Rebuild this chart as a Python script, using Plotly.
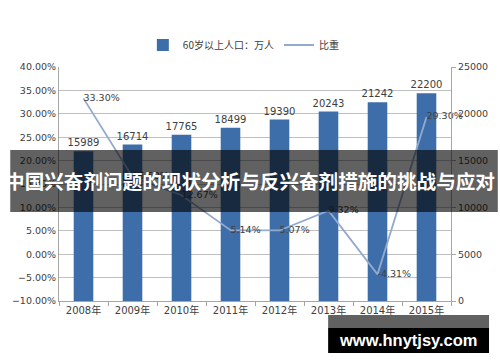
import plotly.graph_objects as go

years = ["2008年", "2009年", "2010年", "2011年", "2012年", "2013年", "2014年", "2015年"]
population = [15989, 16714, 17765, 18499, 19390, 20243, 21242, 22200]
ratio = [33.30, 16.5, 12.6, 5.14, 5.07, 9.32, -4.31, 29.30]
ratio_labels = ["33.30%", "16.50%", "12.67%", "5.14%", "5.07%", "9.32%", "-4.31%", "29.30%"]
bar_name = "60岁以上人口：万人"
line_name = "比重"
banner_text = "中国兴奋剂问题的现状分析与反兴奋剂措施的挑战与应对"
watermark = "www.hnytjsy.com"

W, H = 500, 362
L, R, T, B = 50, 48, 67, 61
PW, PH = W - L - R, H - T - B

def px(x):
    return (x - L) / PW

def py(y):
    return 1 - (y - T) / PH

txt = "#404040"
num_font = dict(family="DejaVu Sans, Noto Sans CJK SC", size=9.5, color=txt)

fig = go.Figure()
fig.add_trace(go.Bar(
    x=years, y=population, name=bar_name, yaxis="y",
    marker=dict(color="#3E6EA9", line=dict(width=0)),
    text=[str(v) for v in population], textposition="outside",
    constraintext="none",
    textfont=dict(family="DejaVu Sans", size=10, color=txt), cliponaxis=False,
))
fig.add_trace(go.Scatter(
    x=years, y=ratio, name=line_name, yaxis="y2", mode="lines+text",
    line=dict(color="#93AACF", width=1.8),
    text=ratio_labels, textposition="middle right", textfont=num_font,
    cliponaxis=False,
))

fig.update_layout(
    width=W, height=H,
    margin=dict(l=L, r=R, t=T, b=B),
    paper_bgcolor="white", plot_bgcolor="white",
    bargap=0.6,
    showlegend=True,
    title=dict(text=banner_text, xref="container", yref="container",
               x=0.5, y=1 - 182 / H, xanchor="center", yanchor="middle",
               pad=dict(t=0, b=0, l=0, r=0),
               font=dict(family="Noto Sans CJK SC", size=19.6, color="white", weight="bold")),
    legend=dict(orientation="h", x=px(136), xanchor="left", y=py(45), yanchor="middle",
                font=dict(family="Noto Sans CJK SC", size=10, color=txt),
                itemwidth=30, tracegroupgap=0),
    xaxis=dict(type="category", showline=True, linecolor="#A6A6A6", linewidth=1,
               ticks="outside", tickson="boundaries", ticklen=4, tickcolor="#A6A6A6",
               tickfont=dict(family="DejaVu Sans, Noto Sans CJK SC", size=10, color=txt),
               showgrid=False),
    yaxis=dict(side="right", range=[0, 25000], dtick=5000, tickformat="d", showgrid=False,
               showline=True, linecolor="#A6A6A6", ticks="outside", ticklen=4,
               tickcolor="#A6A6A6", tickfont=num_font, zeroline=False),
    yaxis2=dict(side="left", overlaying="y", range=[-10, 40], dtick=5,
                tickformat=".2f", ticksuffix="%", showgrid=True, gridcolor="#BFBFBF",
                gridwidth=1, showline=True, linecolor="#A6A6A6", ticks="",
                tickfont=num_font, zeroline=False),
    shapes=[
        dict(type="rect", xref="paper", yref="paper", x0=px(0), x1=px(500),
             y0=py(150), y1=py(212), fillcolor="rgba(0,0,0,0.62)", line=dict(width=0),
             layer="above"),
        dict(type="rect", xref="paper", yref="paper", x0=px(326), x1=px(491),
             y0=py(315), y1=py(328), fillcolor="rgba(80,80,80,0.9)", line=dict(width=0),
             layer="above"),
        dict(type="rect", xref="paper", yref="paper", x0=px(326), x1=px(491),
             y0=py(328), y1=py(353), fillcolor="#000000", line=dict(width=0),
             layer="above"),
    ],
    annotations=[
        dict(text=watermark, xref="paper", yref="paper", x=px(408), y=py(340),
             xanchor="center", yanchor="middle", showarrow=False,
             font=dict(family="Liberation Sans", size=16.5, color="white", weight="bold")),
    ],
)

fig.write_html("out.html", config={"displayModeBar": False},
               post_script="document.body.style.margin='0';")
